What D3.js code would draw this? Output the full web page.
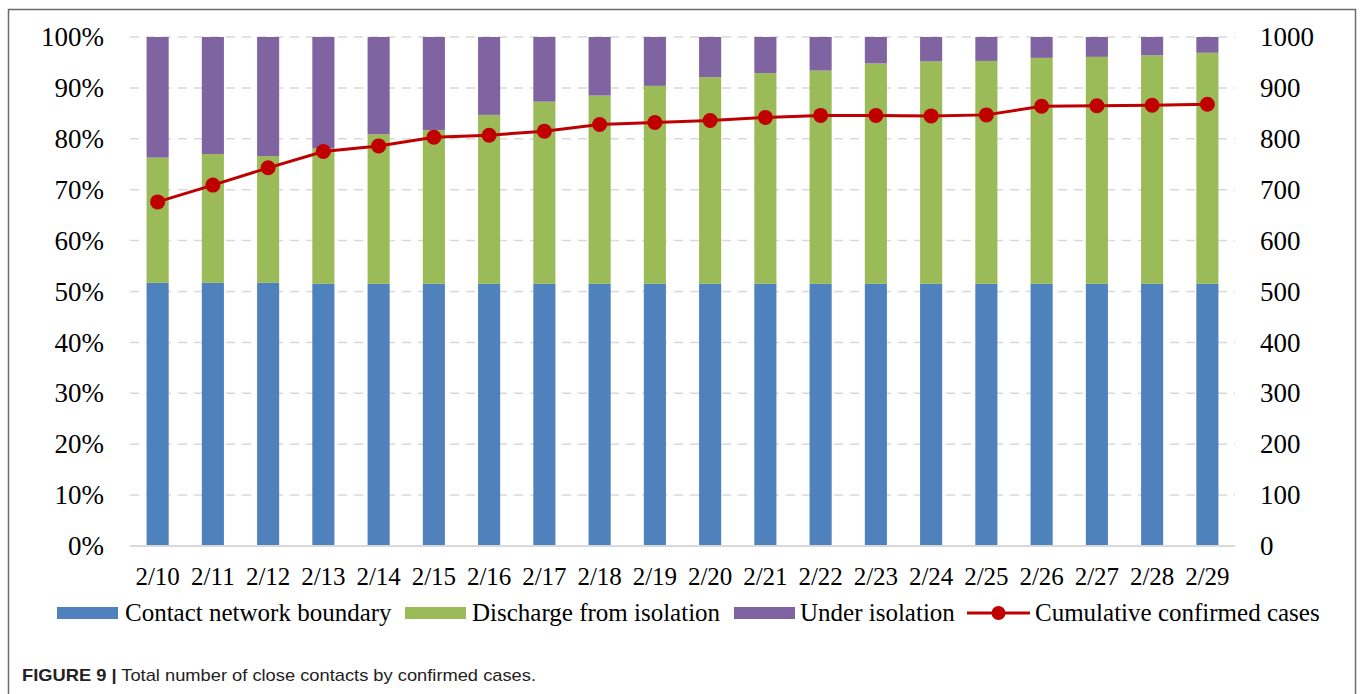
<!DOCTYPE html>
<html>
<head>
<meta charset="utf-8">
<script src="https://cdn.jsdelivr.net/npm/d3@7"></script>
<style>
  body { margin: 0; background: #fff; }
  svg { display: block; }
</style>
</head>
<body>
<div id="chart"></div>
<script>
// dates on the x axis
var dates = ["2/10","2/11","2/12","2/13","2/14","2/15","2/16","2/17","2/18","2/19",
             "2/20","2/21","2/22","2/23","2/24","2/25","2/26","2/27","2/28","2/29"];

// shares in percent
var boundary  = [51.7,51.7,51.7,51.5,51.5,51.5,51.5,51.5,51.5,51.5,
                 51.5,51.5,51.5,51.5,51.5,51.5,51.5,51.5,51.5,51.5];
var discharge = [24.6,25.3,24.9,26.6,29.4,30.2,33.2,35.8,37.0,38.9,
                 40.6,41.4,41.9,43.3,43.7,43.8,44.4,44.6,44.9,45.4];
var isolation = [23.7,23.0,23.4,21.9,19.1,18.3,15.3,12.7,11.5,9.6,
                 7.9,7.1,6.6,5.2,4.8,4.7,4.1,3.9,3.6,3.1];

// cumulative confirmed cases (right axis)
var cumulative = [676,709,743,775,786,803,807,815,828,832,
                  836,842,846,846,845,847,864,865,866,868];

var pctTicks = [0,10,20,30,40,50,60,70,80,90,100];
var caseTicks = [0,100,200,300,400,500,600,700,800,900,1000];

var seriesNames = ["Contact network boundary","Discharge from isolation","Under isolation"];
var lineName = "Cumulative confirmed cases";
var colors = ["#4f81bd","#9bbb59","#8064a2"];
var lineColor = "#c00000";
var serif = "'Liberation Serif', 'Times New Roman', serif";

var W = 1360, H = 694;
var plotL = 130, plotR = 1235, plotT = 37, plotB = 546;

var svg = d3.select("#chart").append("svg")
  .attr("width", W).attr("height", H);

// outer frame (open at the bottom)
svg.append("path")
  .attr("d", "M8.5,694 V9.5 H1355.5 V694")
  .attr("fill", "none").attr("stroke", "#6b6b6b").attr("stroke-width", 1.5);

var x = d3.scaleBand().domain(dates).range([plotL, plotR])
  .paddingInner(0.6).paddingOuter(0.3);
var y = d3.scaleLinear().domain([0, 100]).range([plotB, plotT]);
var y2 = d3.scaleLinear().domain([0, 1000]).range([plotB, plotT]);

// gridlines
svg.append("g").selectAll("line")
  .data(pctTicks.filter(function(d) { return d > 0; }))
  .join("line")
  .attr("x1", plotL).attr("x2", plotR)
  .attr("y1", function(d) { return y(d); }).attr("y2", function(d) { return y(d); })
  .attr("stroke", "#d9d9d9").attr("stroke-width", 1.5)
  .attr("stroke-dasharray", "9,7");

// stacked bars
var rows = dates.map(function(d, i) {
  return { date: d, a: boundary[i], b: discharge[i], c: isolation[i] };
});
var stack = d3.stack().keys(["a","b","c"])(rows);

svg.append("g").selectAll("g")
  .data(stack)
  .join("g")
  .attr("fill", function(d, i) { return colors[i]; })
  .selectAll("rect")
  .data(function(d) { return d; })
  .join("rect")
  .attr("x", function(d) { return x(d.data.date); })
  .attr("width", x.bandwidth())
  .attr("y", function(d) { return y(Math.min(d[1], 100)); })
  .attr("height", function(d) { return y(d[0]) - y(Math.min(d[1], 100)); });

// baseline
svg.append("line")
  .attr("x1", plotL).attr("x2", plotR)
  .attr("y1", plotB).attr("y2", plotB)
  .attr("stroke", "#d9d9d9").attr("stroke-width", 2);

// cumulative line
var line = d3.line()
  .x(function(d, i) { return x(dates[i]) + x.bandwidth() / 2; })
  .y(function(d) { return y2(d); });

svg.append("path")
  .datum(cumulative)
  .attr("d", line)
  .attr("fill", "none").attr("stroke", lineColor).attr("stroke-width", 3);

svg.append("g").selectAll("circle")
  .data(cumulative)
  .join("circle")
  .attr("cx", function(d, i) { return x(dates[i]) + x.bandwidth() / 2; })
  .attr("cy", function(d) { return y2(d); })
  .attr("r", 7.5)
  .attr("fill", lineColor);

// axes
var yAxis = svg.append("g")
  .attr("transform", "translate(" + plotL + ",0)")
  .call(d3.axisLeft(y).tickValues(pctTicks).tickSize(0).tickPadding(26)
    .tickFormat(function(d) { return d + "%"; }));
var y2Axis = svg.append("g")
  .attr("transform", "translate(" + plotR + ",0)")
  .call(d3.axisRight(y2).tickValues(caseTicks).tickSize(0).tickPadding(25)
    .tickFormat(d3.format("d")));
var xAxis = svg.append("g")
  .attr("transform", "translate(0," + plotB + ")")
  .call(d3.axisBottom(x).tickSize(0).tickPadding(21));

[yAxis, y2Axis, xAxis].forEach(function(a) {
  a.select(".domain").remove();
  a.attr("font-family", serif).attr("font-size", 27);
  a.selectAll("text").attr("fill", "#000");
});
xAxis.attr("font-size", 25);

// legend
var legY = 613;
var legend = svg.append("g")
  .attr("font-family", serif)
  .attr("font-size", 25);

var legItems = [
  { name: seriesNames[0], color: colors[0], sx: 57, tx: 125 },
  { name: seriesNames[1], color: colors[1], sx: 405, tx: 472 },
  { name: seriesNames[2], color: colors[2], sx: 734, tx: 800 }
];
legItems.forEach(function(it) {
  legend.append("rect")
    .attr("x", it.sx).attr("y", legY - 6)
    .attr("width", 61).attr("height", 12)
    .attr("fill", it.color);
  legend.append("text")
    .attr("x", it.tx).attr("y", legY + 8)
    .text(it.name);
});
legend.append("line")
  .attr("x1", 967).attr("x2", 1030)
  .attr("y1", legY).attr("y2", legY)
  .attr("stroke", lineColor).attr("stroke-width", 3);
legend.append("circle")
  .attr("cx", 998.5).attr("cy", legY).attr("r", 7)
  .attr("fill", lineColor);
legend.append("text")
  .attr("x", 1035).attr("y", legY + 8)
  .text(lineName);

// caption
var cap = svg.append("text")
  .attr("x", 22).attr("y", 681)
  .attr("font-family", "'Liberation Sans Narrow', 'Arial Narrow', 'Liberation Sans', sans-serif")
  .attr("font-size", 17)
  .attr("textLength", 514)
  .attr("lengthAdjust", "spacingAndGlyphs")
  .attr("fill", "#222");
cap.append("tspan").attr("font-weight", "bold").text("FIGURE 9 |");
cap.append("tspan").text(" Total number of close contacts by confirmed cases.");
</script>
</body>
</html>
